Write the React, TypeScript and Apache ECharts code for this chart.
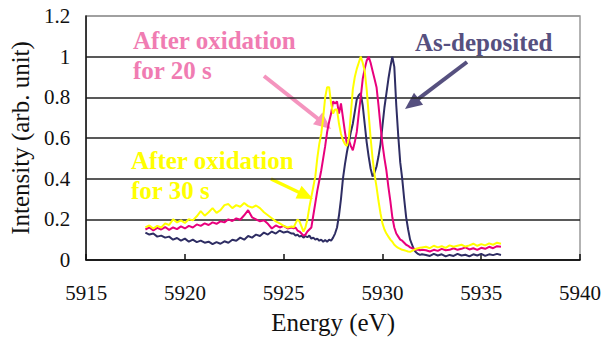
import React, { useEffect, useRef } from "react";
import * as echarts from "echarts";

// Energy sampling points (eV)
const ENERGY = [
  5918.0, 5918.2, 5918.4, 5918.6, 5918.8, 5919.0, 5919.2, 5919.4, 5919.6, 5919.8,
  5920.0, 5920.2, 5920.4, 5920.6, 5920.8, 5921.0, 5921.2, 5921.4, 5921.6, 5921.8,
  5922.0, 5922.2, 5922.4, 5922.6, 5922.8, 5923.0, 5923.2, 5923.4, 5923.6, 5923.8,
  5924.0, 5924.2, 5924.4, 5924.6, 5924.8, 5925.0, 5925.2, 5925.4,
  5925.5, 5925.6, 5925.7, 5925.8, 5925.9, 5926.0, 5926.1, 5926.2, 5926.3, 5926.4,
  5926.5, 5926.6, 5926.7, 5926.8, 5926.9, 5927.0, 5927.1, 5927.2, 5927.3, 5927.4,
  5927.5, 5927.6, 5927.7, 5927.8, 5927.9, 5928.0, 5928.1, 5928.2, 5928.3, 5928.4,
  5928.5, 5928.6, 5928.7, 5928.8, 5928.9, 5929.0, 5929.1, 5929.2, 5929.3, 5929.4,
  5929.5, 5929.6, 5929.7, 5929.8, 5929.9, 5930.0, 5930.1, 5930.2, 5930.3, 5930.4,
  5930.5, 5930.6, 5930.7, 5930.8, 5930.9, 5931.0, 5931.1, 5931.2, 5931.3, 5931.4,
  5931.5, 5931.6, 5931.7, 5931.8, 5931.9, 5932.0,
  5932.2, 5932.4, 5932.6, 5932.8, 5933.0, 5933.2, 5933.4, 5933.6, 5933.8, 5934.0,
  5934.2, 5934.4, 5934.6, 5934.8, 5935.0, 5935.2, 5935.4, 5935.6, 5935.8, 5936.0,
];

const AS_DEPOSITED = [
  0.135, 0.125, 0.13, 0.115, 0.12, 0.11, 0.115, 0.1, 0.108, 0.095,
  0.105, 0.09, 0.1, 0.088, 0.095, 0.085, 0.09, 0.078, 0.088, 0.08,
  0.092, 0.085, 0.1, 0.095, 0.11, 0.1, 0.118, 0.11, 0.125, 0.118,
  0.135, 0.125, 0.14, 0.13, 0.145, 0.135, 0.14, 0.13,
  0.13, 0.12, 0.125, 0.115, 0.12, 0.11, 0.118, 0.112, 0.12, 0.105,
  0.11, 0.1, 0.105, 0.095, 0.1, 0.09, 0.098, 0.09, 0.1, 0.095,
  0.11, 0.13, 0.16, 0.22, 0.3, 0.4, 0.47, 0.53, 0.58, 0.63,
  0.67, 0.73, 0.79, 0.81, 0.82, 0.76, 0.67, 0.58, 0.51, 0.45,
  0.41, 0.43, 0.46, 0.51, 0.57, 0.66, 0.75, 0.82, 0.89, 0.95,
  1.0, 0.95, 0.76, 0.61, 0.48, 0.4, 0.3, 0.21, 0.15, 0.1,
  0.075, 0.05, 0.038, 0.03, 0.025, 0.028,
  0.025, 0.02, 0.03, 0.022, 0.028, 0.018, 0.025, 0.02, 0.03, 0.022,
  0.026, 0.018, 0.028, 0.022, 0.03, 0.02, 0.028, 0.024, 0.03, 0.025,
];

const OXIDIZED_20S = [
  0.15, 0.16, 0.145, 0.158, 0.15, 0.162, 0.148, 0.16, 0.152, 0.165,
  0.155, 0.168, 0.16, 0.175, 0.168, 0.18, 0.172, 0.185, 0.178, 0.19,
  0.185, 0.2, 0.192, 0.205, 0.198, 0.22, 0.245, 0.21, 0.2, 0.19,
  0.195, 0.178, 0.155, 0.17, 0.16, 0.168, 0.155, 0.16,
  0.155, 0.16, 0.145, 0.14, 0.13, 0.12, 0.125, 0.14, 0.15, 0.16,
  0.22, 0.28, 0.34, 0.39, 0.44, 0.5, 0.56, 0.63, 0.68, 0.72,
  0.78, 0.77, 0.78, 0.72, 0.77, 0.7, 0.63, 0.57, 0.59, 0.56,
  0.54, 0.58, 0.63, 0.72, 0.8, 0.89, 0.94, 0.98, 1.0, 0.97,
  0.93, 0.89, 0.85, 0.76, 0.66, 0.57, 0.5, 0.44, 0.36, 0.29,
  0.21, 0.16, 0.13, 0.115, 0.1, 0.095, 0.085, 0.075, 0.07, 0.062,
  0.058, 0.055, 0.05, 0.052, 0.048, 0.05,
  0.048, 0.042, 0.05, 0.045, 0.055, 0.048, 0.05, 0.058, 0.05, 0.055,
  0.062, 0.052, 0.058, 0.05, 0.06, 0.055, 0.065, 0.058, 0.068, 0.065,
];

const OXIDIZED_30S = [
  0.16, 0.17, 0.155, 0.168, 0.16, 0.18, 0.172, 0.2, 0.185, 0.195,
  0.182, 0.2, 0.195, 0.215, 0.24, 0.218, 0.235, 0.255, 0.232, 0.245,
  0.27, 0.275, 0.255, 0.27, 0.262, 0.28, 0.265, 0.258, 0.268, 0.255,
  0.235, 0.22, 0.205, 0.19, 0.18, 0.168, 0.16, 0.165,
  0.16, 0.18, 0.2, 0.19, 0.165, 0.14, 0.16, 0.2, 0.26, 0.31,
  0.36, 0.41, 0.5, 0.57, 0.62, 0.7, 0.8, 0.85, 0.85, 0.77,
  0.72, 0.74, 0.74, 0.67, 0.62, 0.59, 0.57, 0.56, 0.6, 0.72,
  0.84, 0.9, 0.94, 0.97, 1.0, 0.97, 0.93, 0.84, 0.72, 0.6,
  0.5, 0.42, 0.36, 0.29, 0.23, 0.18, 0.15, 0.13, 0.115, 0.1,
  0.09, 0.075, 0.066, 0.06, 0.055, 0.05, 0.048, 0.045, 0.042, 0.04,
  0.045, 0.05, 0.055, 0.058, 0.06, 0.062,
  0.065, 0.058, 0.07, 0.062, 0.068, 0.06, 0.072, 0.065, 0.07, 0.075,
  0.066, 0.072, 0.08, 0.07, 0.078, 0.072, 0.082, 0.075, 0.085, 0.08,
];

const X_TICKS = { min: 5915, max: 5940, interval: 5 };
const Y_TICKS = { min: 0, max: 1.2, interval: 0.2 };

const FONT = "Liberation Serif";
const NAVY = "#2E2D63";
const MAGENTA = "#E8007D";
const YELLOW = "#FFFF00";
const PINK_TEXT = "#F07CB2";
const SLATE = "#56507F";

const FONT_CSS = `#xas-chart text { font-family: "Liberation Serif", "Times New Roman", serif !important; }`;

function arrow(x1: number, y1: number, x2: number, y2: number, color: string, width: number, headLen: number, headW: number) {
  const dx = x2 - x1;
  const dy = y2 - y1;
  const L = Math.hypot(dx, dy);
  const ux = dx / L;
  const uy = dy / L;
  const bx = x2 - ux * headLen;
  const by = y2 - uy * headLen;
  const px = -uy;
  const py = ux;
  return [
    { type: "line", shape: { x1, y1, x2: bx + ux * 2, y2: by + uy * 2 }, style: { stroke: color, lineWidth: width } },
    {
      type: "polygon",
      shape: {
        points: [
          [x2, y2],
          [bx + (px * headW) / 2, by + (py * headW) / 2],
          [bx - (px * headW) / 2, by - (py * headW) / 2],
        ],
      },
      style: { fill: color },
    },
  ];
}

function label(text: string, x: number, y: number, color: string) {
  return {
    type: "text",
    x,
    y,
    style: {
      text,
      fill: color,
      fontFamily: FONT,
      fontWeight: "bold",
      fontSize: 25,
    },
  };
}

export default function App() {
  const ref = useRef<HTMLDivElement>(null);
  useEffect(() => {
    if (!ref.current) return;
    const chart = echarts.init(ref.current, null, { renderer: "svg" });
    const mk = (vals: number[]) => ENERGY.map((e, i) => [e, vals[i]]);
    chart.setOption({
      animation: false,
      backgroundColor: "#ffffff",
      grid: { left: 86, top: 16, right: 31, bottom: 87, show: true, borderColor: "#9a9a9a", borderWidth: 1.5 },
      xAxis: {
        type: "value",
        min: X_TICKS.min,
        max: X_TICKS.max,
        interval: X_TICKS.interval,
        name: "Energy (eV)",
        nameLocation: "middle",
        nameGap: 50,
        nameTextStyle: { fontFamily: FONT, fontSize: 25, color: "#111" },
        axisLine: { lineStyle: { color: "#111", width: 1.5 } },
        axisTick: { inside: true, length: 6, lineStyle: { color: "#111", width: 1.5 } },
        axisLabel: {
          fontFamily: FONT,
          fontSize: 21,
          color: "#111",
          margin: 22,
          formatter: (v: number) => String(v),
        },
        splitLine: { show: false },
      },
      yAxis: {
        type: "value",
        min: Y_TICKS.min,
        max: Y_TICKS.max,
        interval: Y_TICKS.interval,
        name: "Intensity (arb. unit)",
        nameLocation: "middle",
        nameGap: 45,
        nameTextStyle: { fontFamily: FONT, fontSize: 25, color: "#111" },
        axisLine: { lineStyle: { color: "#111", width: 1.5 } },
        axisTick: { show: false },
        axisLabel: {
          fontFamily: FONT,
          fontSize: 21,
          color: "#111",
          margin: 16,
          formatter: (v: number) => String(Math.round(v * 10) / 10),
        },
        splitLine: {
          show: true,
          lineStyle: { color: ["#222", "#222", "#222", "#222", "#222", "#222", "#9a9a9a"], width: 1.5 },
        },
      },
      series: [
        { type: "line", data: mk(AS_DEPOSITED), showSymbol: false, lineStyle: { color: NAVY, width: 2 }, itemStyle: { color: NAVY } },
        { type: "line", data: mk(OXIDIZED_20S), showSymbol: false, lineStyle: { color: MAGENTA, width: 2 }, itemStyle: { color: MAGENTA } },
        { type: "line", data: mk(OXIDIZED_30S), showSymbol: false, lineStyle: { color: YELLOW, width: 2 }, itemStyle: { color: YELLOW } },
      ],
      graphic: [
        label("After oxidation", 133, 28, PINK_TEXT),
        label("for 20 s", 133, 58, PINK_TEXT),
        label("After oxidation", 131, 148, YELLOW),
        label("for 30 s", 131, 178, YELLOW),
        label("As-deposited", 415, 30, SLATE),
        ...arrow(264, 76, 331, 129, "#F494BE", 4, 17, 15),
        ...arrow(271, 179, 313, 199, YELLOW, 3.5, 16, 14),
        ...arrow(467, 62, 405, 109, SLATE, 4, 17, 15),
      ],
    });
    return () => chart.dispose();
  }, []);
  return (
    <>
      <style>{FONT_CSS}</style>
      <div id="xas-chart" ref={ref} style={{ position: "absolute", left: 0, top: 0, width: 611, height: 347 }} />
    </>
  );
}
